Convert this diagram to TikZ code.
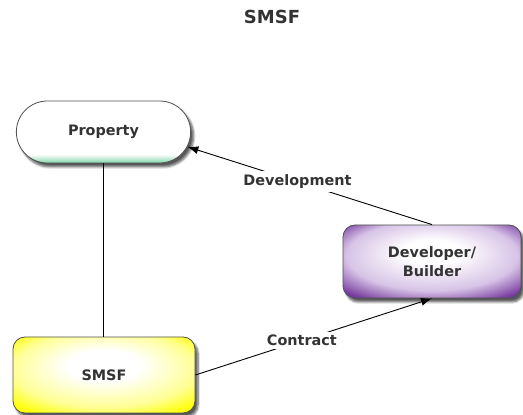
\documentclass[tikz,border=0pt]{standalone}
\usepackage{fontspec}
\setmainfont{DejaVu Sans}
\usetikzlibrary{shapes.misc,shadows.blur,arrows.meta}

\definecolor{labelgray}{RGB}{51,51,51}
\definecolor{edgegray}{RGB}{80,80,80}
\definecolor{mintgreen}{RGB}{130,214,170}
\definecolor{boxyellow}{RGB}{255,255,0}
\definecolor{paleyellow}{RGB}{255,255,150}
\definecolor{deeppurple}{RGB}{118,58,158}
\definecolor{lavender}{RGB}{215,195,230}

% Fills: the node's box spans 25bp to 75bp of each shading
\pgfdeclareverticalshading{propshade}{100bp}{%
  color(0bp)=(mintgreen); color(25bp)=(mintgreen);
  color(32bp)=(white); color(100bp)=(white)}
\pgfdeclareradialshading{smsfshade}{\pgfpoint{0bp}{8bp}}{%
  color(0bp)=(white); color(10bp)=(white);
  color(25bp)=(paleyellow); color(34bp)=(boxyellow); color(50bp)=(boxyellow)}
\pgfdeclareradialshading{devshade}{\pgfpoint{0bp}{8bp}}{%
  color(0bp)=(white); color(8bp)=(white);
  color(24bp)=(lavender); color(34bp)=(deeppurple); color(50bp)=(deeppurple)}

\begin{document}
\begin{tikzpicture}[x=1pt,y=1pt,
  every node/.style={text=labelgray, font=\bfseries\fontsize{14.4}{19}\selectfont},
  boxstyle/.style={draw=edgegray, line width=0.8pt,
    blur shadow={shadow xshift=3pt, shadow yshift=-4pt,
      shadow opacity=65, shadow blur steps=6}},
  conn/.style={draw=black, line width=0.9pt},
  arrowconn/.style={conn, -{Latex[length=11pt,width=8pt]}},
  edgelabel/.style={fill=white}
]
\useasboundingbox (0,0) rectangle (523,415);

\node[font=\bfseries\fontsize{18}{22}\selectfont] (title) at (272,398) {SMSF};

\node[boxstyle, rounded rectangle, minimum width=181pt, minimum height=62pt,
      shading=propshade] (prop) at (103.5,283) {Property};

\node[boxstyle, rectangle, rounded corners=12pt, minimum width=178pt,
      minimum height=73pt, align=center, shading=devshade]
      (dev) at (432,153.5) {Developer/\\Builder};

\node[boxstyle, rectangle, rounded corners=12pt, minimum width=182pt,
      minimum height=76pt, shading=smsfshade] (smsf) at (104,40) {SMSF};

\draw[conn] (prop.south) -- (prop.south |- smsf.north);
\draw[arrowconn] (dev.north) -- node[edgelabel, pos=0.55] {Development} (prop.-10);
\draw[arrowconn] (smsf.east) -- node[edgelabel, pos=0.45] {Contract} (dev.south);
\end{tikzpicture}
\end{document}
